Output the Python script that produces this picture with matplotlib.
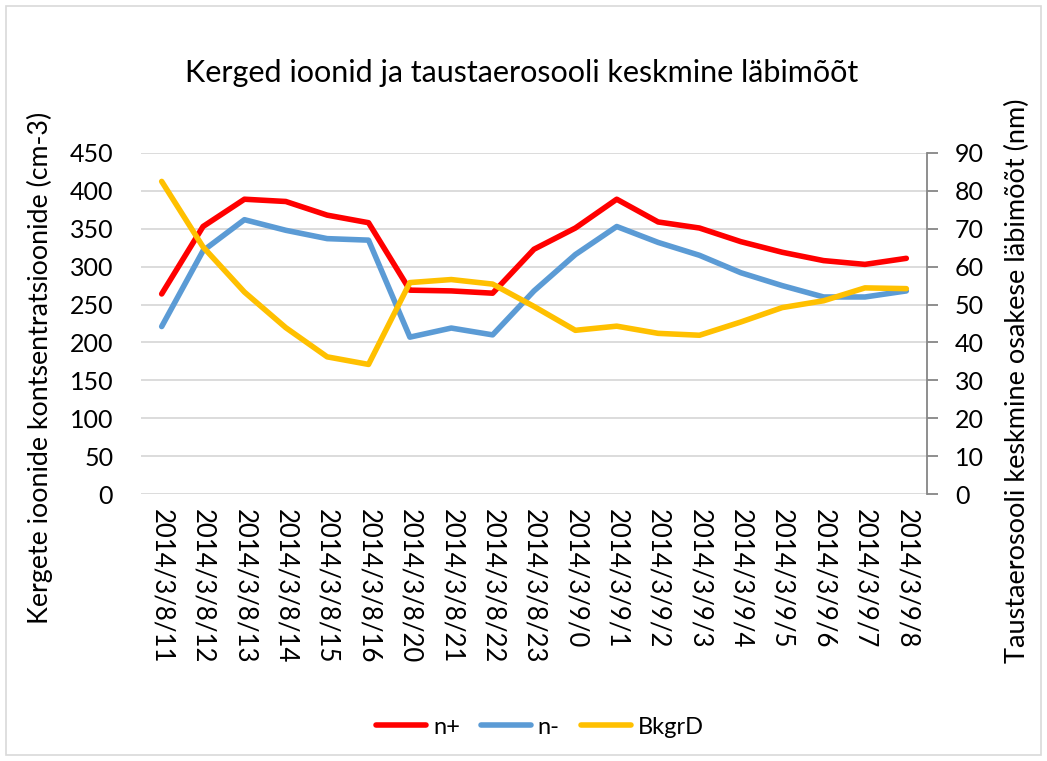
import matplotlib
matplotlib.use("Agg")
import matplotlib.pyplot as plt
from matplotlib.patches import Rectangle

plt.rcParams['font.family'] = ['Lato', 'DejaVu Sans']

categories = ["2014/3/8/11", "2014/3/8/12", "2014/3/8/13", "2014/3/8/14", "2014/3/8/15",
              "2014/3/8/16", "2014/3/8/20", "2014/3/8/21", "2014/3/8/22", "2014/3/8/23",
              "2014/3/9/0", "2014/3/9/1", "2014/3/9/2", "2014/3/9/3", "2014/3/9/4",
              "2014/3/9/5", "2014/3/9/6", "2014/3/9/7", "2014/3/9/8"]
n_plus = [264, 353, 389, 386, 368, 358, 269, 268, 265, 323, 351, 389, 359, 351, 333, 319, 308, 303, 311]
n_minus = [221, 321, 362, 348, 337, 335, 207, 219, 210, 268, 316, 353, 332, 315, 292, 275, 260, 260, 268]
bkgrd = [82.5, 65.2, 53.3, 43.9, 36.2, 34.2, 55.8, 56.6, 55.4, 49.5, 43.2, 44.3, 42.4, 41.9, 45.4, 49.2, 51.0, 54.4, 54.2]

W, H = 1047, 761
fig = plt.figure(figsize=(W / 100, H / 100), dpi=100)
ax = fig.add_axes([141 / W, 1 - 494 / H, (927 - 141) / W, (494 - 153) / H])
ax2 = ax.twinx()

x = list(range(len(categories)))
l1, = ax.plot(x, n_plus, color='#FF0000', lw=4, solid_capstyle='round', label='n+', zorder=3)
l2, = ax.plot(x, n_minus, color='#5B9BD5', lw=4, solid_capstyle='round', label='n-', zorder=3)
l3, = ax2.plot(x, bkgrd, color='#FFC000', lw=4, solid_capstyle='round', label='BkgrD', zorder=3)

ax.set_xlim(-0.5, len(categories) - 0.5)
ax.set_ylim(0, 450)
ax.set_yticks(range(0, 451, 50))
ax2.set_ylim(0, 90)
ax2.set_yticks(range(0, 91, 10))

ax.grid(axis='y', color='#D9D9D9', lw=1.3)
ax.set_axisbelow(True)
for s in ['top', 'left', 'right', 'bottom']:
    ax.spines[s].set_visible(False)
for s in ['top', 'left', 'bottom']:
    ax2.spines[s].set_visible(False)
ax2.spines['right'].set_color('#868686')
ax2.spines['right'].set_linewidth(1.3)

ax.set_xticks(x)
ax.set_xticklabels(categories, rotation=-90, fontsize=18.5)
ax.tick_params(axis='x', length=0, pad=11)
ax.tick_params(axis='y', length=0, labelsize=18, pad=20)
ax2.tick_params(axis='y', length=8, width=1.3, color='#868686', labelsize=18, pad=12)

fig.text(40 / W, 1 - 368 / H, 'Kergete ioonide kontsentratsioonide (cm-3)', fontsize=19.3,
         rotation=90, ha='center', va='center')
fig.text(1017 / W, 1 - 381 / H, 'Taustaerosooli keskmine osakese läbimõõt (nm)', fontsize=19.5,
         rotation=90, ha='center', va='center')

fig.text(522 / W, 1 - 73 / H, 'Kerged ioonid ja taustaerosooli keskmine läbimõõt',
         fontsize=22, ha='center', va='center')

fig.legend(handles=[l1, l2, l3], loc='center', bbox_to_anchor=(540 / W, 1 - 727 / H),
           ncol=3, frameon=False, fontsize=17, handlelength=2.1, columnspacing=0.9,
           handletextpad=0.3)

fig.patches.append(Rectangle((6 / W, 6 / H), (W - 12) / W, (H - 12) / H, transform=fig.transFigure,
                             fill=False, edgecolor='#D9D9D9', lw=1.2))

fig.savefig('out.png', dpi=100, facecolor='white')
